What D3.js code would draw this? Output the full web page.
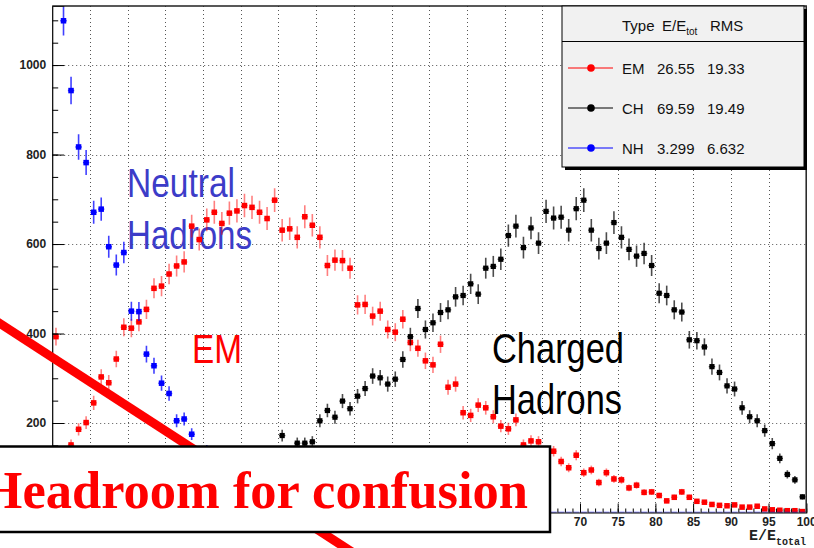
<!DOCTYPE html>
<html>
<head>
<meta charset="utf-8">
<script src="https://cdn.jsdelivr.net/npm/d3@7"></script>
<style>
  html, body { margin: 0; padding: 0; background: #fff; }
  svg { display: block; }
</style>
</head>
<body>
<svg id="chart" width="814" height="548"></svg>
<script>
// Energy fraction histograms, 100 bins of 1% in E/E_total.
// null marks a bin that is not drawn on this view.
const binLow = d3.range(100);

const emCounts = [
  393, null, 151, 186, 201, 245, 303, 290, 343, 414,
  412, 426, 454, 501, 506, 533, 551, 560, 640, 610,
  654, 671, 646, 669, 674, 686, 682, 671, 657, 698,
  631, 634, 615, 661, 642, 615, 552, 564, 563, 546,
  464, 465, 439, 450, 409, 403, 432, 380, 367, 339,
  330, 376, 280, 287, 223, 217, 240, 234, 214, 193,
  187, 207, 151, 160, 158, null, 137, 114, 100, 128,
  89, 95, 67, 89, 75, 73, 55, 61, 45, 46,
  38, 26, 34, 46, 34, 25, 23, 18, 16, 15,
  17, 12, 12, 14, 8, 6, 5, 4, 4, 2
];

const chCounts = [
  null, null, null, null, null, null, null, null, null, null,
  null, null, null, null, null, null, null, null, null, null,
  null, null, null, null, null, null, null, null, null, null,
  172, null, 155, 155, 158, 205, 228, 213, 249, 232,
  260, 277, 305, 301, 287, 298, 342, 393, 456, 409,
  424, 447, 453, 482, 485, 511, 488, 546, 550, 566,
  619, 640, 592, 636, 602, 673, 658, 660, 631, 679,
  698, 631, 590, 602, 648, 615, 588, 573, 579, 552,
  490, 485, 453, 448, 386, 384, 370, 326, 313, 283,
  276, 234, 214, 205, 183, 154, 121, 85, 73, 35
];

const nhCounts = [
  null, 1099, 943, 817, 782, 671, 678, 594, 553, 581,
  450, 449, 354, 328, 289, 266, 205, 209, 175, null,
  139, null, null, null, null, null, null, null, null, null,
  null, null, null, null, null, null, null, null, null, null,
  null, null, null, null, null, null, null, null, null, null,
  null, null, null, null, null, null, null, null, null, null,
  null, null, null, null, null, null, 0, 0, 0, 0,
  0, 0, 0, 0, 0, 0, 0, 0, 0, 0,
  0, 0, 0, 0, 0, 0, 0, 0, 0, 0,
  0, 0, 0, 0, 0, 0, 0, 0, 0, 0
];

const yLabelTicks = [200, 400, 600, 800, 1000];
const yMinorTicks = d3.range(0, 1101, 50);
const xMajorTicks = d3.range(0, 101, 5);
const xLabelTicks = [70, 75, 80, 85, 90, 95, 100];
const xMinorTicks = d3.range(0, 101, 1);

const legendTypes = ["EM", "CH", "NH"];
const legendMeans = ["26.55", "69.59", "3.299"];
const legendRms = ["19.33", "19.49", "6.632"];

const seriesColors = { EM: "#ff0000", CH: "#000000", NH: "#0000ff" };

const svg = d3.select("#chart");

const x = d3.scaleLinear().domain([0, 100]).range([52.2, 806.2]);
const y = d3.scaleLinear().domain([0, 1132]).range([512.5, 6]);

const [x0, x1] = x.range();
const [yBottom, yTop] = y.range();

svg.append("rect").attr("width", 814).attr("height", 548).attr("fill", "#fff");

svg.append("defs").append("clipPath").attr("id", "plotClip")
  .append("rect")
  .attr("x", x0).attr("y", yTop)
  .attr("width", x1 - x0).attr("height", yBottom - yTop);

// dotted grid
const grid = svg.append("g").attr("stroke", "#555").attr("stroke-width", 1)
  .attr("stroke-dasharray", "1,3");
grid.selectAll("line.gx").data(xMajorTicks.filter(t => t > 0 && t < 100)).join("line")
  .attr("x1", d => Math.round(x(d)) + 0.5).attr("x2", d => Math.round(x(d)) + 0.5)
  .attr("y1", yTop).attr("y2", yBottom);
grid.selectAll("line.gy").data(yLabelTicks).join("line")
  .attr("y1", d => Math.round(y(d)) + 0.5).attr("y2", d => Math.round(y(d)) + 0.5)
  .attr("x1", x0).attr("x2", x1);

// category annotations
const narrow = "'Liberation Sans Narrow', 'Arial Narrow', 'Liberation Sans', Arial, sans-serif";
const notes = svg.append("g").attr("font-family", narrow);
function note(txt, px, py, size, width, color) {
  notes.append("text")
    .attr("x", px).attr("y", py)
    .attr("font-size", size)
    .attr("fill", color)
    .attr("textLength", width)
    .attr("lengthAdjust", "spacingAndGlyphs")
    .text(txt);
}
note("Neutral", 127, 197, 40, 108, "#3c3cc8");
note("Hadrons", 127, 249, 40, 125, "#3c3cc8");
note("EM", 192, 363, 40, 50, "#ff0000");
note("Charged", 492, 363, 42, 132, "#000000");
note("Hadrons", 492, 414, 42, 130, "#000000");

// histogram points with Poisson error bars
const plot = svg.append("g").attr("clip-path", "url(#plotClip)");
const halfBin = (x(1) - x(0)) / 2;

function drawSeries(counts, color, markerSize, barOpacity) {
  const pts = counts
    .map((v, i) => ({ c: binLow[i] + 0.5, v }))
    .filter(d => d.v !== null);
  const g = plot.append("g");
  g.selectAll("line.h").data(pts).join("line")
    .attr("x1", d => x(d.c) - halfBin + 0.6).attr("x2", d => x(d.c) + halfBin - 0.6)
    .attr("y1", d => y(d.v)).attr("y2", d => y(d.v))
    .attr("stroke", color).attr("stroke-width", 1.4).attr("stroke-opacity", barOpacity);
  g.selectAll("line.v").data(pts.filter(d => d.v > 0)).join("line")
    .attr("x1", d => x(d.c)).attr("x2", d => x(d.c))
    .attr("y1", d => y(d.v + Math.sqrt(d.v))).attr("y2", d => y(d.v - Math.sqrt(d.v)))
    .attr("stroke", color).attr("stroke-width", 1.6).attr("stroke-opacity", barOpacity);
  g.selectAll("rect").data(pts.filter(d => d.v > 0)).join("rect")
    .attr("x", d => x(d.c) - markerSize / 2).attr("y", d => y(d.v) - markerSize / 2)
    .attr("width", markerSize).attr("height", markerSize)
    .attr("fill", color);
}
drawSeries(emCounts, seriesColors.EM, 5.5, 0.5);
drawSeries(chCounts, seriesColors.CH, 5.2, 0.7);
drawSeries(nhCounts, seriesColors.NH, 5.5, 0.75);

// axes with inward ticks
const axisFont = "'Liberation Sans', Arial, sans-serif";
const yAxis = svg.append("g").attr("transform", `translate(${x0},0)`)
  .call(d3.axisLeft(y).tickValues(yLabelTicks).tickSize(-12).tickPadding(6)
    .tickFormat(d3.format("d")));
svg.append("g").attr("transform", `translate(${x0},0)`)
  .call(d3.axisLeft(y).tickValues(yMinorTicks).tickSize(-6).tickFormat(""))
  .call(g => g.select(".domain").remove());
yAxis.selectAll("text").attr("font-family", axisFont).attr("font-weight", "bold")
  .attr("font-size", 12).attr("fill", "#222");

// major x ticks; only the labels clear of the caption box are written
svg.append("g").attr("transform", `translate(0,${yBottom})`)
  .call(d3.axisBottom(x).tickValues(xMajorTicks).tickSize(-9).tickFormat(""));
const xAxis = svg.append("g").attr("transform", `translate(0,${yBottom})`)
  .call(d3.axisBottom(x).tickValues(xLabelTicks).tickSize(0).tickPadding(5)
    .tickFormat(d3.format("d")))
  .call(g => g.select(".domain").remove());
svg.append("g").attr("transform", `translate(0,${yBottom})`)
  .call(d3.axisBottom(x).tickValues(xMinorTicks).tickSize(-4).tickFormat(""))
  .call(g => g.select(".domain").remove());
xAxis.selectAll("text").attr("font-family", axisFont).attr("font-weight", "bold")
  .attr("font-size", 12).attr("fill", "#222");
svg.selectAll(".domain").attr("stroke", "#000").attr("stroke-width", 1.2);

// frame top and right
svg.append("path")
  .attr("d", `M${x0},${yTop}H${x1}V${yBottom}`)
  .attr("fill", "none").attr("stroke", "#222").attr("stroke-width", 1.5);

// axis title
const title = svg.append("text")
  .attr("x", 806).attr("y", 540)
  .attr("text-anchor", "end")
  .attr("font-family", "'Liberation Mono', 'Courier New', monospace")
  .attr("font-weight", "bold").attr("font-size", 15).attr("fill", "#222");
title.append("tspan").text("E/E");
title.append("tspan").attr("font-size", 10).attr("dy", 5).text("total");

// legend
const lg = svg.append("g").attr("font-family", axisFont);
const lgX = 562, lgY = 6, lgW = 242, lgH = 161;
lg.append("rect").attr("x", lgX + 3).attr("y", lgY + 3).attr("width", lgW).attr("height", lgH)
  .attr("fill", "#000");
lg.append("rect").attr("x", lgX).attr("y", lgY).attr("width", lgW).attr("height", lgH)
  .attr("fill", "#f1f1f1").attr("stroke", "#000").attr("stroke-width", 1);
lg.append("line").attr("x1", lgX).attr("x2", lgX + lgW).attr("y1", 41.5).attr("y2", 41.5)
  .attr("stroke", "#000").attr("stroke-width", 1);
const head = lg.append("g").attr("font-size", 15).attr("fill", "#111");
head.append("text").attr("x", 622).attr("y", 31).text("Type");
const ee = head.append("text").attr("x", 662).attr("y", 31);
ee.append("tspan").text("E/E");
ee.append("tspan").attr("font-size", 10).attr("dy", 4).text("tot");
head.append("text").attr("x", 710).attr("y", 31).text("RMS");

const rowY = d3.scalePoint().domain(legendTypes).range([68, 148]);
legendTypes.forEach((t, i) => {
  const cy = rowY(t);
  lg.append("line").attr("x1", 568).attr("x2", 613).attr("y1", cy).attr("y2", cy)
    .attr("stroke", seriesColors[t]).attr("stroke-width", 1);
  lg.append("circle").attr("cx", 591).attr("cy", cy).attr("r", 3.8).attr("fill", seriesColors[t]);
  const row = lg.append("g").attr("font-size", 15).attr("fill", "#111");
  row.append("text").attr("x", 622).attr("y", cy + 5.5).text(t);
  row.append("text").attr("x", 657).attr("y", cy + 5.5).text(legendMeans[i]);
  row.append("text").attr("x", 707).attr("y", cy + 5.5).text(legendRms[i]);
});

// headroom annotation: slash behind a boxed caption
svg.append("line")
  .attr("x1", -10).attr("y1", 317).attr("x2", 352).attr("y2", 552)
  .attr("stroke", "#ff0000").attr("stroke-width", 9);
svg.append("rect")
  .attr("x", -40).attr("y", 446.5).attr("width", 590).attr("height", 85.5)
  .attr("fill", "#fff").attr("stroke", "#000").attr("stroke-width", 2.5);
svg.append("text")
  .attr("x", 528).attr("y", 508)
  .attr("text-anchor", "end")
  .attr("font-family", "'Liberation Serif', 'Times New Roman', serif")
  .attr("font-weight", "bold").attr("font-size", 52.5).attr("fill", "#ff0000")
  .text("Headroom for confusion");
</script>
</body>
</html>
